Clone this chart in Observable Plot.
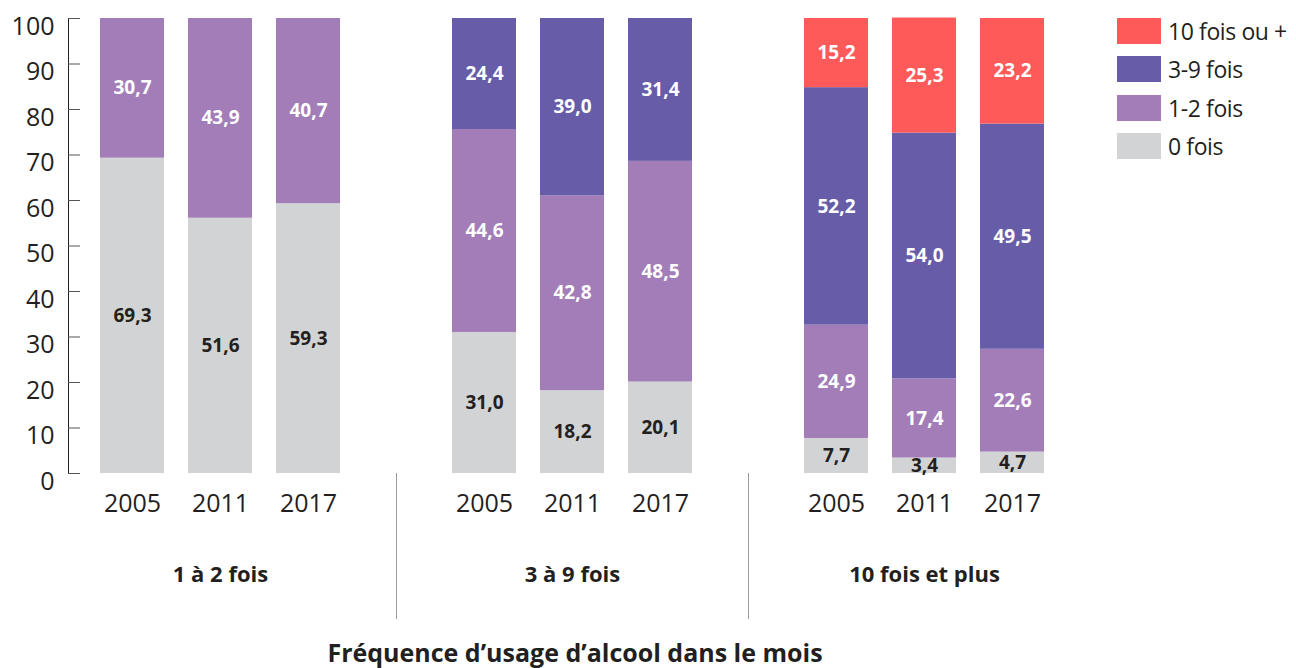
<!DOCTYPE html>
<html><head><meta charset="utf-8">
<script src="https://cdn.jsdelivr.net/npm/d3@7"></script>
<script src="https://cdn.jsdelivr.net/npm/@observablehq/plot@0.6"></script>
<style>
body{margin:0;background:#fff;font-family:"Open Sans",sans-serif;color:#231f20}
#wrap{position:relative;width:1296px;height:668px;overflow:hidden}
#legend{position:absolute;left:1117px;top:18px}
.item{display:flex;align-items:center;height:26px;margin-bottom:12.3px;font-size:23px;letter-spacing:-0.4px;line-height:26px;white-space:nowrap}
.sw{width:44px;height:26px;margin-right:7px;flex:none}
#title{position:absolute;left:0;width:1150px;top:640px;text-align:center;font-weight:bold;font-size:25px;line-height:25px;white-space:nowrap}
</style>
</head><body>
<div id="wrap"><div id="chart"></div><div id="legend"></div><div id="title"></div></div>
<script>
const groups = ["1 à 2 fois", "3 à 9 fois", "10 fois et plus"];
const years = ["2005", "2011", "2017"];
const categories = ["0 fois", "1-2 fois", "3-9 fois", "10 fois ou +"];
const colors = ["#d1d3d4", "#a37db8", "#675ca8", "#ff5a5a"];
// bar heights as drawn
const v0 = [69.3, 56.1, 59.3, 31.0, 18.2, 20.1, 7.7, 3.4, 4.7];
const v12 = [30.7, 43.9, 40.7, 44.6, 42.8, 48.5, 24.9, 17.4, 22.6];
const v39 = [null, null, null, 24.4, 39.0, 31.4, 52.2, 54.0, 49.5];
const v10 = [null, null, null, null, null, null, 15.2, 25.3, 23.2];
// values as printed on the bars
const v0Printed = [69.3, 51.6, 59.3, 31.0, 18.2, 20.1, 7.7, 3.4, 4.7];
const yTicks = [0, 10, 20, 30, 40, 50, 60, 70, 80, 90, 100];
const title = "Fréquence d’usage d’alcool dans le mois";

const series = [v0, v12, v39, v10];
const printed = [v0Printed, v12, v39, v10];
const barKeys = groups.flatMap(g => years.map(y => g + "|" + y));
const sepKeys = ["sep1", "sep2"];
const domain = [...barKeys.slice(0, 3), sepKeys[0], ...barKeys.slice(3, 6), sepKeys[1], ...barKeys.slice(6)];
const rows = [];
categories.forEach((c, ci) => barKeys.forEach((k, i) => {
  const v = series[ci][i];
  if (v != null) rows.push({key: k, cat: c, value: v, printed: printed[ci][i]});
}));
const fmt = v => v.toFixed(1).replace(".", ",");
const dark = "#231f20";

const plot = Plot.plot({
  width: 1296, height: 668,
  marginLeft: 68, marginRight: 221, marginTop: 18, marginBottom: 195,
  style: {fontFamily: "Open Sans", color: dark, background: "white"},
  x: {domain, paddingInner: 0.273, paddingOuter: 0.35, label: null},
  y: {domain: [0, 100], label: null},
  color: {domain: categories, range: colors},
  marks: [
    Plot.barY(rows, {x: "key", y: "value", fill: "cat"}),
    Plot.text(rows, Plot.stackY({x: "key", y: "value", text: d => d.cat === categories[0] ? fmt(d.printed) : "", fill: dark, fontWeight: "bold", fontSize: 19})),
    Plot.text(rows, Plot.stackY({x: "key", y: "value", text: d => d.cat !== categories[0] ? fmt(d.printed) : "", fill: "white", fontWeight: "bold", fontSize: 19})),
    Plot.frame({anchor: "left", stroke: dark}),
    Plot.axisY({ticks: yTicks, tickSize: -12, tickFormat: () => "", stroke: "#555", label: null}),
    Plot.axisY({ticks: yTicks, tickSize: 0, tickPadding: 14, fontSize: 25, dy: 8, fill: dark, label: null}),
    Plot.axisX({ticks: barKeys, tickSize: 0, tickPadding: 21, tickFormat: k => k.split("|")[1], fontSize: 25, fill: dark, label: null}),
    Plot.axisX({ticks: [barKeys[1], barKeys[4], barKeys[7]], tickSize: 0, tickPadding: 93, tickFormat: k => k.split("|")[0], fontSize: 22, fontWeight: "bold", fill: dark, label: null}),
    Plot.axisX({ticks: sepKeys, tickSize: 146, tickFormat: () => "", stroke: "#9b9b9b", label: null})
  ]
});
document.getElementById("chart").append(plot);

const legend = document.getElementById("legend");
categories.map((c, i) => [c, colors[i]]).reverse().forEach(([c, col]) => {
  const it = document.createElement("div");
  it.className = "item";
  const sw = document.createElement("div");
  sw.className = "sw";
  sw.style.background = col;
  it.append(sw, document.createTextNode(c));
  legend.append(it);
});
document.getElementById("title").textContent = title;
</script>
</body></html>
